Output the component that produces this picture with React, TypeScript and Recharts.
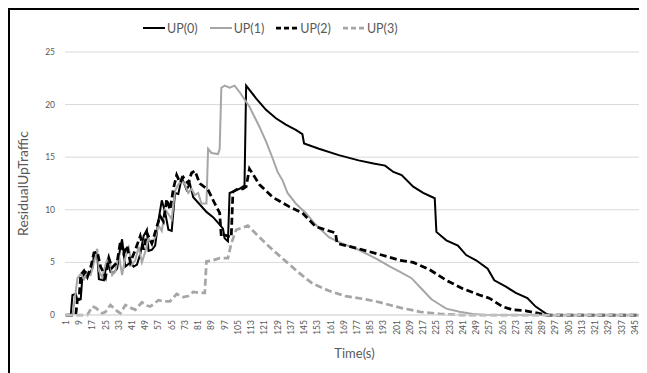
import React from "react";
import { LineChart, Line, XAxis, YAxis, CartesianGrid, Legend, Label } from "recharts";

const xTicks = [1, 9, 17, 25, 33, 41, 49, 57, 65, 73, 81, 89, 97, 105, 113, 121, 129, 137, 145, 153, 161, 169, 177, 185, 193, 201, 209, 217, 225, 233, 241, 249, 257, 265, 273, 281, 289, 297, 305, 313, 321, 329, 337, 345];
const yTicks = [0, 5, 10, 15, 20, 25];

const up0: [number, number][] = [[1,0],[4,0],[5,1.9],[7,2.0],[8,1.4],[10,1.5],[11,3.6],[13,4.1],[15,3.9],[17,4.4],[18,5.7],[20,5.7],[21,3.4],[24,3.3],[26,5.2],[28,4.1],[30,4.0],[32,4.4],[34,6.5],[35,7.2],[37,4.6],[40,5.0],[42,4.6],[44,4.8],[46,5.8],[48,7.5],[50,8.1],[51,6.1],[53,6.2],[55,6.6],[57,9.0],[59,10.9],[61,9.8],[63,8.1],[65,8.0],[67,11.6],[69,11.5],[71,13.0],[72,12.7],[74,11.9],[76,12.5],[78,11.2],[82,10.5],[86,9.8],[90,9.3],[94,8.6],[96,8.2],[97,7.3],[99,7.0],[100,11.6],[103,11.8],[106,12.0],[108,12.2],[109,12.3],[110,21.8],[116,20.6],[122,19.5],[128,18.7],[134,18.1],[140,17.6],[144,17.2],[145,16.3],[154,15.8],[166,15.2],[178,14.7],[187,14.4],[194,14.2],[199,13.6],[204,13.3],[211,12.2],[217,11.6],[224,11.1],[225,7.9],[231,7.1],[238,6.6],[243,5.7],[249,5.2],[256,4.4],[260,3.3],[267,2.7],[273,2.1],[280,1.6],[285,0.8],[291,0.15],[293,0],[350,0]];

const up1: [number, number][] = [[1,0],[5,0],[6,1.0],[8,3.5],[10,3.9],[12,3.4],[14,4.0],[16,3.8],[18,5.0],[20,6.3],[21,4.2],[23,3.6],[25,4.8],[27,5.6],[29,3.8],[31,4.2],[33,5.8],[35,3.8],[37,5.5],[39,6.4],[41,4.8],[43,5.2],[45,6.5],[47,5.0],[49,6.0],[51,7.3],[53,6.8],[55,7.4],[57,8.5],[59,8.0],[61,10.0],[63,9.6],[65,9.1],[67,11.8],[69,12.4],[71,12.8],[73,12.4],[75,11.6],[77,12.0],[79,11.4],[81,11.6],[83,10.6],[86,10.6],[87,15.8],[89,15.4],[93,15.3],[94,15.8],[95,21.6],[97,21.8],[100,21.6],[103,21.8],[106,21.2],[112,19.8],[118,17.9],[122,16.5],[126,14.9],[129,13.6],[132,12.8],[135,11.6],[140,10.6],[146,9.7],[152,8.6],[160,7.4],[168,6.8],[178,6.2],[188,5.4],[197,4.6],[203,4.1],[210,3.5],[216,2.5],[222,1.5],[227,1.0],[231,0.6],[239,0.3],[247,0.1],[255,0],[350,0]];

const up2: [number, number][] = [[1,0],[7,0],[8,1.4],[9,1.5],[10,3.8],[12,4.2],[14,3.6],[16,4.5],[18,5.9],[20,6.0],[22,4.6],[25,3.6],[27,5.4],[29,4.5],[32,5.0],[34,7.0],[36,5.8],[38,6.6],[40,5.0],[43,6.2],[46,7.5],[48,6.2],[50,7.8],[53,6.8],[56,8.4],[58,9.4],[60,8.9],[62,11.0],[64,10.0],[66,12.0],[68,13.3],[70,12.6],[72,13.1],[75,12.5],[77,13.5],[79,13.7],[82,12.5],[87,11.9],[91,10.6],[94,9.7],[95,7.4],[97,7.6],[101,7.4],[102,11.7],[105,12.0],[108,12.0],[110,12.2],[112,13.9],[118,12.4],[126,11.2],[136,10.3],[144,9.7],[152,8.4],[164,7.8],[165,6.8],[178,6.3],[192,5.7],[203,5.2],[211,5.0],[221,4.3],[231,3.3],[241,2.5],[251,1.9],[257,1.6],[265,0.8],[271,0.5],[279,0.4],[287,0.15],[292,0],[350,0]];

const up3: [number, number][] = [[1,0],[14,0],[17,0.8],[19,0.7],[23,0.15],[25,0.3],[28,0.95],[31,0.5],[34,0.15],[37,0.95],[40,0.7],[43,0.5],[47,1.2],[50,0.9],[52,0.8],[57,1.4],[60,1.3],[64,1.3],[68,2.0],[72,1.7],[75,1.8],[78,2.2],[82,2.1],[85,2.1],[86,5.1],[90,5.2],[94,5.4],[99,5.4],[101,6.8],[104,8.1],[108,8.3],[111,8.5],[118,7.4],[126,6.2],[134,5.1],[142,4.0],[150,3.0],[160,2.3],[170,1.8],[182,1.5],[191,1.2],[198,0.9],[203,0.7],[215,0.3],[227,0.1],[240,0],[350,0]];

const seriesNames = ["UP(0)", "UP(1)", "UP(2)", "UP(3)"];

const toRows = (s: [number, number][]) => s.map(([t, v]) => ({ t, v }));

const FONT = "Lato, 'Open Sans', sans-serif";
const TXT = "#595959";

const styles = [
  { stroke: "#000000", width: 2, dash: undefined as string | undefined },
  { stroke: "#a6a6a6", width: 2, dash: undefined as string | undefined },
  { stroke: "#000000", width: 2.75, dash: "7 3.5" },
  { stroke: "#a6a6a6", width: 2.75, dash: "7 3.5" },
];

const XTick = (props: any) => {
  const { x, y, payload } = props;
  return (
    <text x={x} y={y} transform={`rotate(-90 ${x} ${y})`} textAnchor="end" dominantBaseline="central" fontSize={8.5} fill={TXT} fontFamily={FONT}>
      {payload.value}
    </text>
  );
};

const YTick = (props: any) => {
  const { x, y, payload } = props;
  return (
    <text x={x} y={y} dx={-7} textAnchor="end" dominantBaseline="central" fontSize={8.5} fill={TXT} fontFamily={FONT}>
      {payload.value}
    </text>
  );
};

const renderLegend = () => (
  <div style={{ display: "flex", justifyContent: "flex-start", alignItems: "center", height: 20, paddingLeft: 133, fontFamily: FONT, fontSize: 12.5, color: TXT }}>
    {seriesNames.map((n, i) => (
      <div key={n} style={{ display: "flex", alignItems: "center", marginRight: i < 3 ? 12 : 0 }}>
        <svg width={22} height={6} style={{ marginRight: 2 }}>
          <line x1={0} y1={3} x2={22} y2={3} stroke={styles[i].stroke} strokeWidth={styles[i].width} strokeDasharray={styles[i].dash ? "5 3" : undefined} />
        </svg>
        <span>{n}</span>
      </div>
    ))}
  </div>
);

export default function App() {
  const data = [up0, up1, up2, up3].map(toRows);
  return (
    <div style={{ width: 637, height: 363, borderLeft: "2px solid #000", borderTop: "2px solid #000", background: "#fff" }}>
      <LineChart width={637} height={363} margin={{ top: 22, right: 3, left: 0, bottom: 0 }}>
        <CartesianGrid horizontal={true} vertical={false} stroke="#d9d9d9" />
        <XAxis
          dataKey="t"
          type="number"
          domain={[0.5, 350.5]}
          ticks={xTicks}
          interval={0}
          tick={<XTick />}
          tickLine={false}
          tickSize={0}
          tickMargin={5}
          axisLine={{ stroke: "#d9d9d9" }}
          height={58}
          allowDuplicatedCategory={false}
        >
          <Label value="Time(s)" position="insideBottom" offset={15} style={{ fontFamily: FONT, fontSize: 13, fill: TXT }} />
        </XAxis>
        <YAxis
          type="number"
          domain={[0, 25]}
          ticks={yTicks}
          width={55}
          axisLine={false}
          tickLine={false}
          tickSize={0}
          tickMargin={3}
          tick={<YTick />}
        >
          <Label value="ResidualUpTraffic" angle={-90} position="insideLeft" offset={13} style={{ fontFamily: FONT, fontSize: 14, fill: TXT, textAnchor: "middle" }} />
        </YAxis>
        <Legend verticalAlign="top" height={20} content={renderLegend} wrapperStyle={{ top: 8, left: 0, width: 637 }} />
        {data.map((d, i) => (
          <Line
            key={seriesNames[i]}
            data={d}
            dataKey="v"
            name={seriesNames[i]}
            type="linear"
            stroke={styles[i].stroke}
            strokeWidth={styles[i].width}
            strokeDasharray={styles[i].dash}
            dot={false}
            activeDot={false}
            isAnimationActive={false}
          />
        ))}
      </LineChart>
    </div>
  );
}
